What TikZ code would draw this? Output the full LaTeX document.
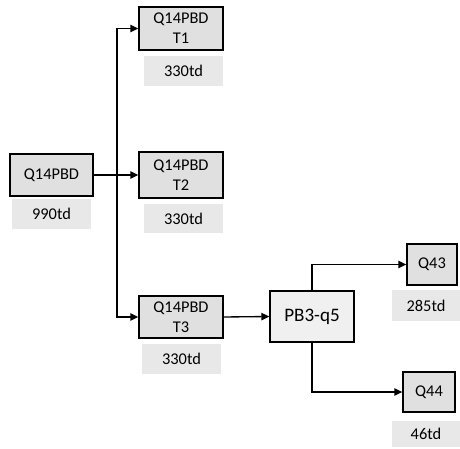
\documentclass[tikz,border=0pt]{standalone}
\usepackage{fontspec}
\setmainfont{Carlito}
\usetikzlibrary{arrows.meta}
\begin{document}
\begin{tikzpicture}[x=0.75pt,y=-0.75pt,
  box/.style={draw=black,line width=1pt,fill=black!12,align=center,inner sep=0pt,
    font=\fontsize{12.3}{15}\selectfont},
  lbl/.style={fill=black!9,inner sep=0pt,font=\fontsize{12.3}{15}\selectfont},
  conn/.style={line width=1pt,-{Triangle[length=6pt,width=5.5pt]}}]
\useasboundingbox (0,0) rectangle (460,449);
\node[box,minimum width=62.25pt,minimum height=31.5pt] (root) at (51.5,175) {Q14PBD};
\node[lbl,minimum width=59.25pt,minimum height=22.5pt] (rootl) at (51.5,214) {990td};
\node[box,minimum width=63pt,minimum height=32.25pt] (t1) at (181,28.5) {Q14PBD\\T1};
\node[lbl,minimum width=59.25pt,minimum height=22.5pt] (t1l) at (183.5,71) {330td};
\node[box,minimum width=63pt,minimum height=34.5pt] (t2) at (181,175) {Q14PBD\\T2};
\node[lbl,minimum width=59.25pt,minimum height=21.75pt] (t2l) at (183.5,218.5) {330td};
\node[box,minimum width=63pt,minimum height=31.5pt] (t3) at (181,317) {Q14PBD\\T3};
\node[lbl,minimum width=59.25pt,minimum height=22.5pt] (t3l) at (181.5,359) {330td};
\node[box,fill=black!6,minimum width=63pt,minimum height=38.25pt,font=\fontsize{14.3}{17}\selectfont] (pb) at (312,316.5) {PB3-q5};
\node[box,minimum width=37.5pt,minimum height=30.75pt] (q43) at (432,264.5) {Q43};
\node[lbl,minimum width=51pt,minimum height=23.25pt] (q43l) at (426,305.5) {285td};
\node[box,minimum width=39pt,minimum height=30pt] (q44) at (429,392) {Q44};
\node[lbl,minimum width=51pt,minimum height=19.5pt] (q44l) at (426,434) {46td};
\coordinate (j) at (117,175);
\draw[conn] (root.east) -- (t2.west);
\draw[conn] (j) |- (t1.west);
\draw[conn] (j) |- (t3.west);
\draw[conn] (t3.east) -- (pb.west);
\draw[conn] (pb.north) |- (q43.west);
\draw[conn] (pb.south) |- (q44.west);
\end{tikzpicture}
\end{document}
